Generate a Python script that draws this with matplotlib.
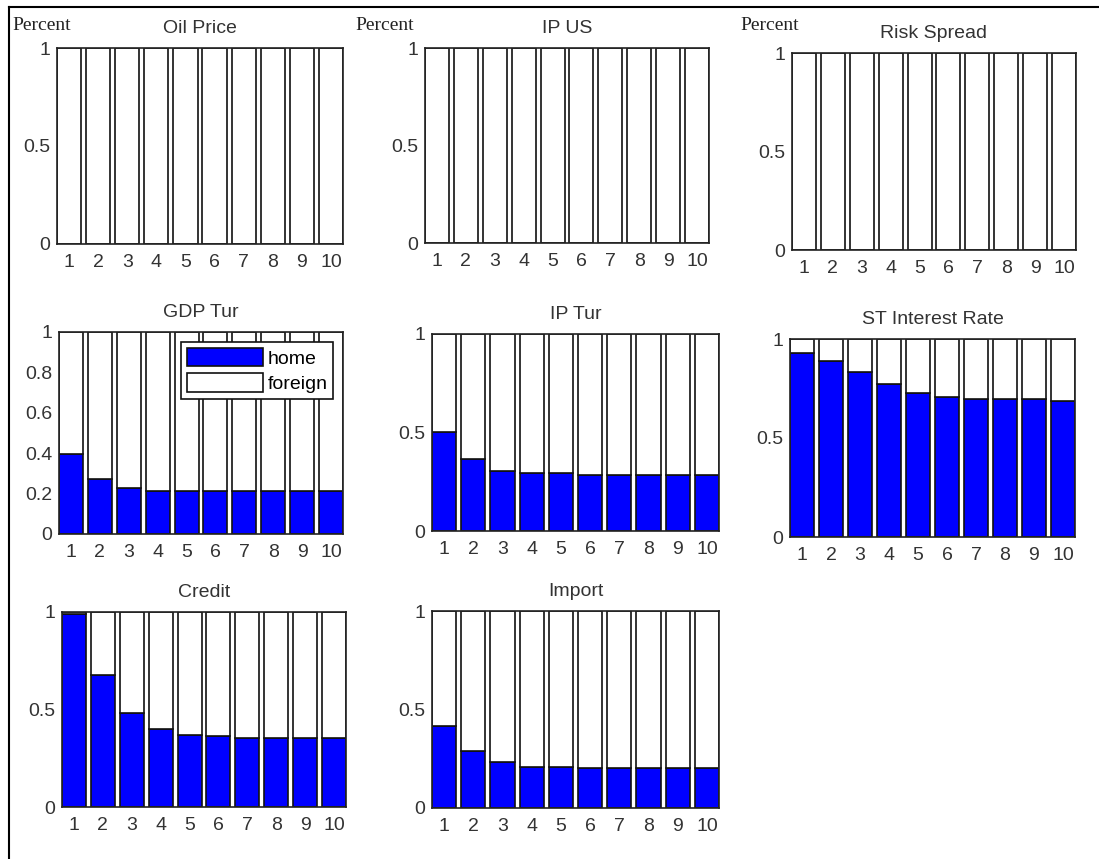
import numpy as np
import matplotlib
matplotlib.use("Agg")
import matplotlib.pyplot as plt
from matplotlib.lines import Line2D
from matplotlib.patches import Patch

plt.rcParams['font.family'] = ['Liberation Sans', 'DejaVu Sans']

horizons = [1, 2, 3, 4, 5, 6, 7, 8, 9, 10]
tick_labels = ['1', '2', '3', '4', '5', '6', '7', '8', '9', '10']

home_oil = [0, 0, 0, 0, 0, 0, 0, 0, 0, 0]
home_ipus = [0, 0, 0, 0, 0, 0, 0, 0, 0, 0]
home_risk = [0, 0, 0, 0, 0, 0, 0, 0, 0, 0]
home_gdp = [0.395, 0.273, 0.230, 0.214, 0.214, 0.214, 0.214, 0.214, 0.214, 0.214]
home_iptur = [0.505, 0.366, 0.307, 0.295, 0.295, 0.285, 0.285, 0.285, 0.285, 0.285]
home_st = [0.929, 0.890, 0.831, 0.774, 0.726, 0.708, 0.696, 0.696, 0.696, 0.686]
home_credit = [0.991, 0.675, 0.480, 0.400, 0.370, 0.363, 0.356, 0.356, 0.356, 0.356]
home_import = [0.415, 0.290, 0.231, 0.208, 0.208, 0.202, 0.202, 0.202, 0.202, 0.202]

titles = ['Oil Price', 'IP US', 'Risk Spread', 'GDP Tur', 'IP Tur',
          'ST Interest Rate', 'Credit', 'Import']
series = [home_oil, home_ipus, home_risk, home_gdp, home_iptur,
          home_st, home_credit, home_import]

W, H = 1099, 859
fig = plt.figure(figsize=(W / 100, H / 100), dpi=100)

# axes boxes in pixels: left, right, top, bottom
boxes = [
    (57, 343, 48, 244),
    (425, 709, 48, 243),
    (792, 1076, 53, 250),
    (59, 343, 332, 534),
    (432, 719, 334, 531),
    (790, 1075, 339, 537),
    (62, 346, 612, 807),
    (432, 719, 611, 808),
]

bw = 0.83
lw = 1.2
x = np.array(horizons)
for i, (title, home) in enumerate(zip(titles, series)):
    l, r, t, b = boxes[i]
    ax = fig.add_axes([l / W, 1 - b / H, (r - l) / W, (b - t) / H])
    home = np.array(home)
    foreign = 1 - home
    ax.bar(x, home, width=bw, color='#0000ff', edgecolor='#111111', linewidth=lw)
    ax.bar(x, foreign, width=bw, bottom=home, color='white', edgecolor='#111111',
           linewidth=lw)
    ax.set_xlim(1 - bw / 2, 10 + bw / 2)
    ax.set_ylim(0, 1)
    ax.set_xticks(x)
    ax.set_xticklabels(tick_labels)
    if title == 'GDP Tur':
        ax.set_yticks([0, 0.2, 0.4, 0.6, 0.8, 1])
        ax.set_yticklabels(['0', '0.2', '0.4', '0.6', '0.8', '1'])
    else:
        ax.set_yticks([0, 0.5, 1])
        ax.set_yticklabels(['0', '0.5', '1'])
    ax.tick_params(axis='both', direction='in', length=0, labelsize=14,
                   colors='#333333', labelcolor='#333333')
    ax.tick_params(axis='x', pad=7)
    ax.tick_params(axis='y', pad=5)
    for s in ax.spines.values():
        s.set_linewidth(1.2)
        s.set_color('#222222')
    ax.set_title(title, fontsize=14, color='#333333', pad=11)
    if title == 'GDP Tur':
        handles = [Patch(facecolor='#0000ff', edgecolor='#111111', linewidth=lw),
                   Patch(facecolor='white', edgecolor='#111111', linewidth=lw)]
        leg = ax.legend(handles, ['home', 'foreign'], loc='upper right',
                        bbox_to_anchor=(1.0, 1.0), fontsize=14,
                        handlelength=3.9, handleheight=1.1, handletextpad=0.25,
                        borderpad=0.3, labelspacing=0.3, fancybox=False,
                        framealpha=1, edgecolor='#111111', borderaxespad=0.5)
        leg.get_frame().set_linewidth(1.2)

# "Percent" labels
for px, py in [(12, 25), (355, 25), (740, 25)]:
    fig.text(px / W, 1 - py / H, 'Percent', fontsize=14, family='Liberation Serif',
             va='center', ha='left', color='#222222')

# outer frame (left and top edges only)
for xs, ys in [((9, 9), (7, 859)), ((9, 1099), (7, 7))]:
    fig.add_artist(Line2D([v / W for v in xs], [1 - v / H for v in ys],
                          color='black', linewidth=1.5))

fig.savefig('out.png', dpi=100)
